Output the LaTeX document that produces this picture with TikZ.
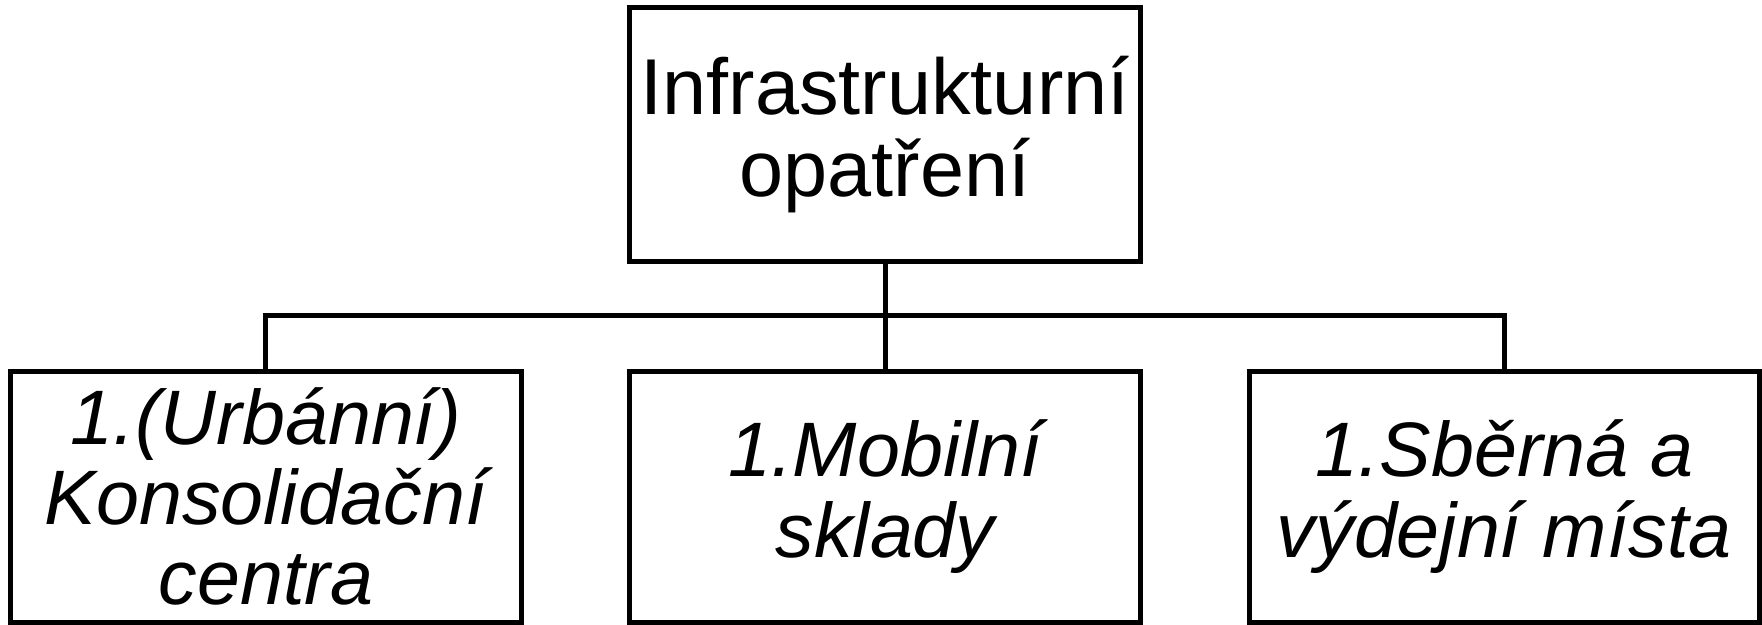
\documentclass[tikz,border=0pt]{standalone}
\usepackage{fontspec}
\setmainfont{Liberation Sans}
\usetikzlibrary{matrix}

\begin{document}
\begin{tikzpicture}[
		box/.style={draw, line width=2.5pt, minimum width=254.5pt, minimum height=127pt,
			align=center, inner sep=0pt, font=\fontsize{39.5}{41}\selectfont},
		sub/.style={box, minimum height=125.25pt, font=\fontsize{38.5}{40}\selectfont\itshape}]
			\matrix (opat) [row sep=52pt, column sep=51.7pt, inner sep=0pt, outer sep=0pt]
			{
				& \node[box] (infra) {Infrastrukturní\\ opatření}; & \\
				\node[sub] (konsol) {1.(Urbánní)\\ Konsolidační\\ centra}; &
				\node[sub] (mobil) {1.Mobilní\\ sklady}; &
				\node[sub] (vydej) {1.Sběrná a\\ výdejní místa}; \\
			};
			\path (infra.south) ++(0,-27pt) coordinate (bar);
			\draw[line width=2.5pt]
			(infra) -- (mobil)
			(konsol) |- (bar) -| (vydej);
			\path (konsol.south west) ++(-5.35pt,-0.4pt) coordinate (bl);
			\path (vydej.east |- infra.north) ++(1.25pt,3.5pt) coordinate (tr);
			\useasboundingbox (bl) rectangle (tr);
		\end{tikzpicture}
\end{document}
